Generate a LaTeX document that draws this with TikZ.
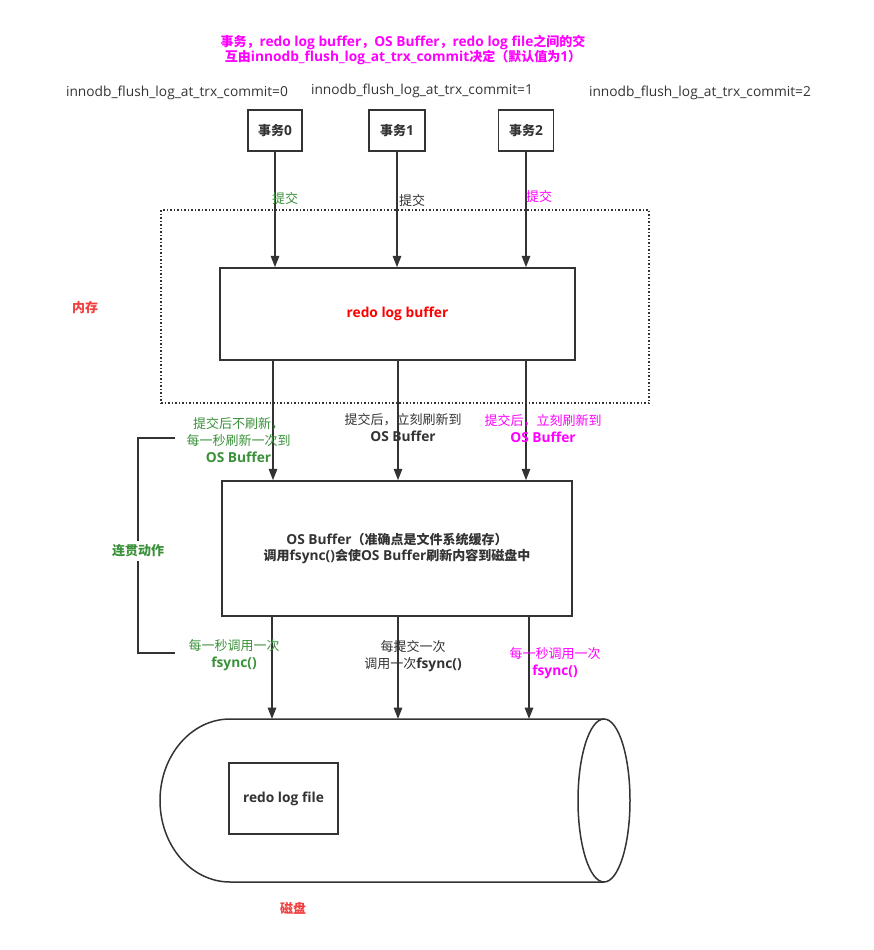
\documentclass[tikz,border=0pt]{standalone}
\usepackage{fontspec}
\setmainfont{Open Sans}[Scale=1.1]
\newfontfamily\zhf{Noto Sans CJK SC}[Scale=1.04]
\newcommand\cj[1]{{\zhf #1}}
\usetikzlibrary{arrows.meta}
\definecolor{dk}{HTML}{333333}
\definecolor{mg}{HTML}{FF00FF}
\definecolor{gn}{HTML}{3A913A}
\definecolor{rd}{HTML}{F04040}
\definecolor{rr}{HTML}{FF0000}
\begin{document}
\begin{tikzpicture}[x=1pt,y=-1pt,
  box/.style={draw=dk,line width=1.5pt,fill=white,inner sep=0pt,font=\fontsize{12.5}{15}\selectfont\bfseries,text=dk},
  lbl/.style={inner sep=1pt,align=center,font=\fontsize{12.5}{17}\selectfont},
  blbl/.style={lbl,font=\fontsize{12.5}{17}\selectfont\bfseries},
  arr/.style={draw=dk,line width=1.6pt,-{Triangle[width=8.5pt,length=11.5pt]}},
  ln/.style={draw=dk,line width=1.5pt}]
\useasboundingbox (0,0) rectangle (873,950);
% title
\node[blbl,text=mg,font=\fontsize{12.5}{15}\selectfont\bfseries] (title) at (403,50) {\cj{事务，}redo log buffer\cj{，}OS Buffer\cj{，}redo log file\cj{之间的交}\\\cj{互由}innodb\_flush\_log\_at\_trx\_commit\cj{决定（默认值为}1\cj{）}};
\node[lbl,text=dk] (c0) at (177,93) {innodb\_flush\_log\_at\_trx\_commit=0};
\node[lbl,text=dk] (c1) at (422,91) {innodb\_flush\_log\_at\_trx\_commit=1};
\node[lbl,text=dk] (c2) at (700,93) {innodb\_flush\_log\_at\_trx\_commit=2};
% transactions
\node[box,minimum width=54pt,minimum height=41pt] (t0) at (275,130.5) {\cj{事务}0};
\node[box,minimum width=56pt,minimum height=41pt] (t1) at (397,130.5) {\cj{事务}1};
\node[box,minimum width=55pt,minimum height=41pt] (t2) at (526,130.5) {\cj{事务}2};
% memory region
\node[draw=dk,line width=1.5pt,dotted,minimum width=488pt,minimum height=193pt,inner sep=0pt] (mem) at (405,306.5) {};
\node[blbl,text=rd] (memlbl) at (85,308) {\cj{内存}};
% redo log buffer
\node[box,minimum width=355pt,minimum height=92pt,text=rr] (buf) at (397.5,314) {redo log buffer};
% arrows to buffer
\draw[arr] (t0.south) -- (t0.south |- buf.north);
\draw[arr] (t1.south) -- (t1.south |- buf.north);
\draw[arr] (t2.south) -- (t2.south |- buf.north);
\node[lbl,text=gn] (s0) at (285,199) {\cj{提交}};
\node[lbl,text=dk] (s1) at (412,201) {\cj{提交}};
\node[lbl,text=mg] (s2) at (539,197) {\cj{提交}};
% OS buffer
\node[box,minimum width=350pt,minimum height=135pt,align=center,font=\fontsize{12.5}{16}\selectfont\bfseries] (os) at (397,548.5) {OS Buffer\cj{（准确点是文件系统缓存）}\\\cj{调用}fsync()\cj{会使}OS Buffer\cj{刷新内容到磁盘中}};
\coordinate (a0) at (273,360);
\coordinate (a1) at (398,360);
\coordinate (a2) at (526,360);
\draw[arr] (a0) -- (a0 |- os.north);
\draw[arr] (a1) -- (a1 |- os.north);
\draw[arr] (a2) -- (a2 |- os.north);
\node[lbl,text=gn] (m0) at (238.5,440) {\cj{提交后不刷新，}\\\cj{每一秒刷新一次到}\\\textbf{OS Buffer}};
\node[lbl,text=dk] (m1) at (403,427.5) {\cj{提交后，立刻刷新到}\\\textbf{OS Buffer}};
\node[lbl,text=mg] (m2) at (543,429) {\cj{提交后，立刻刷新到}\\\textbf{OS Buffer}};
% bracket
\coordinate (bk1) at (175,438);
\coordinate (bk2) at (175,653);
\draw[ln] (bk1) -- (138,438) -- (138,653) -- (bk2);
\node[blbl,fill=white,text=gn,inner ysep=4pt] (lj) at (138,551) {\cj{连贯动作}};
% disk cylinder
\coordinate (dtop) at (0,719);
\draw[ln,fill=white] (604,719) -- (230,719) arc[start angle=90,end angle=270,x radius=70pt,y radius=81.5pt] -- (604,882);
\draw[ln] (604,800.5) ellipse[x radius=26pt,y radius=81.5pt];
\node[box,minimum width=109pt,minimum height=71pt] (file) at (283.5,798.5) {redo log file};
\node[blbl,text=rd] (disk) at (293,908) {\cj{磁盘}};
% arrows to disk
\coordinate (d0) at (272,616);
\coordinate (d1) at (398,616);
\coordinate (d2) at (529,616);
\draw[arr] (d0) -- (d0 |- dtop);
\draw[arr] (d1) -- (d1 |- dtop);
\draw[arr] (d2) -- (d2 |- dtop);
\node[lbl,text=gn] (f0) at (234,655) {\cj{每一秒调用一次}\\\textbf{fsync()}};
\node[lbl,text=dk] (f1) at (413,656) {\cj{每提交一次}\\\cj{调用一次}\textbf{fsync()}};
\node[lbl,text=mg] (f2) at (555,663) {\cj{每一秒调用一次}\\\textbf{fsync()}};
\end{tikzpicture}
\end{document}
